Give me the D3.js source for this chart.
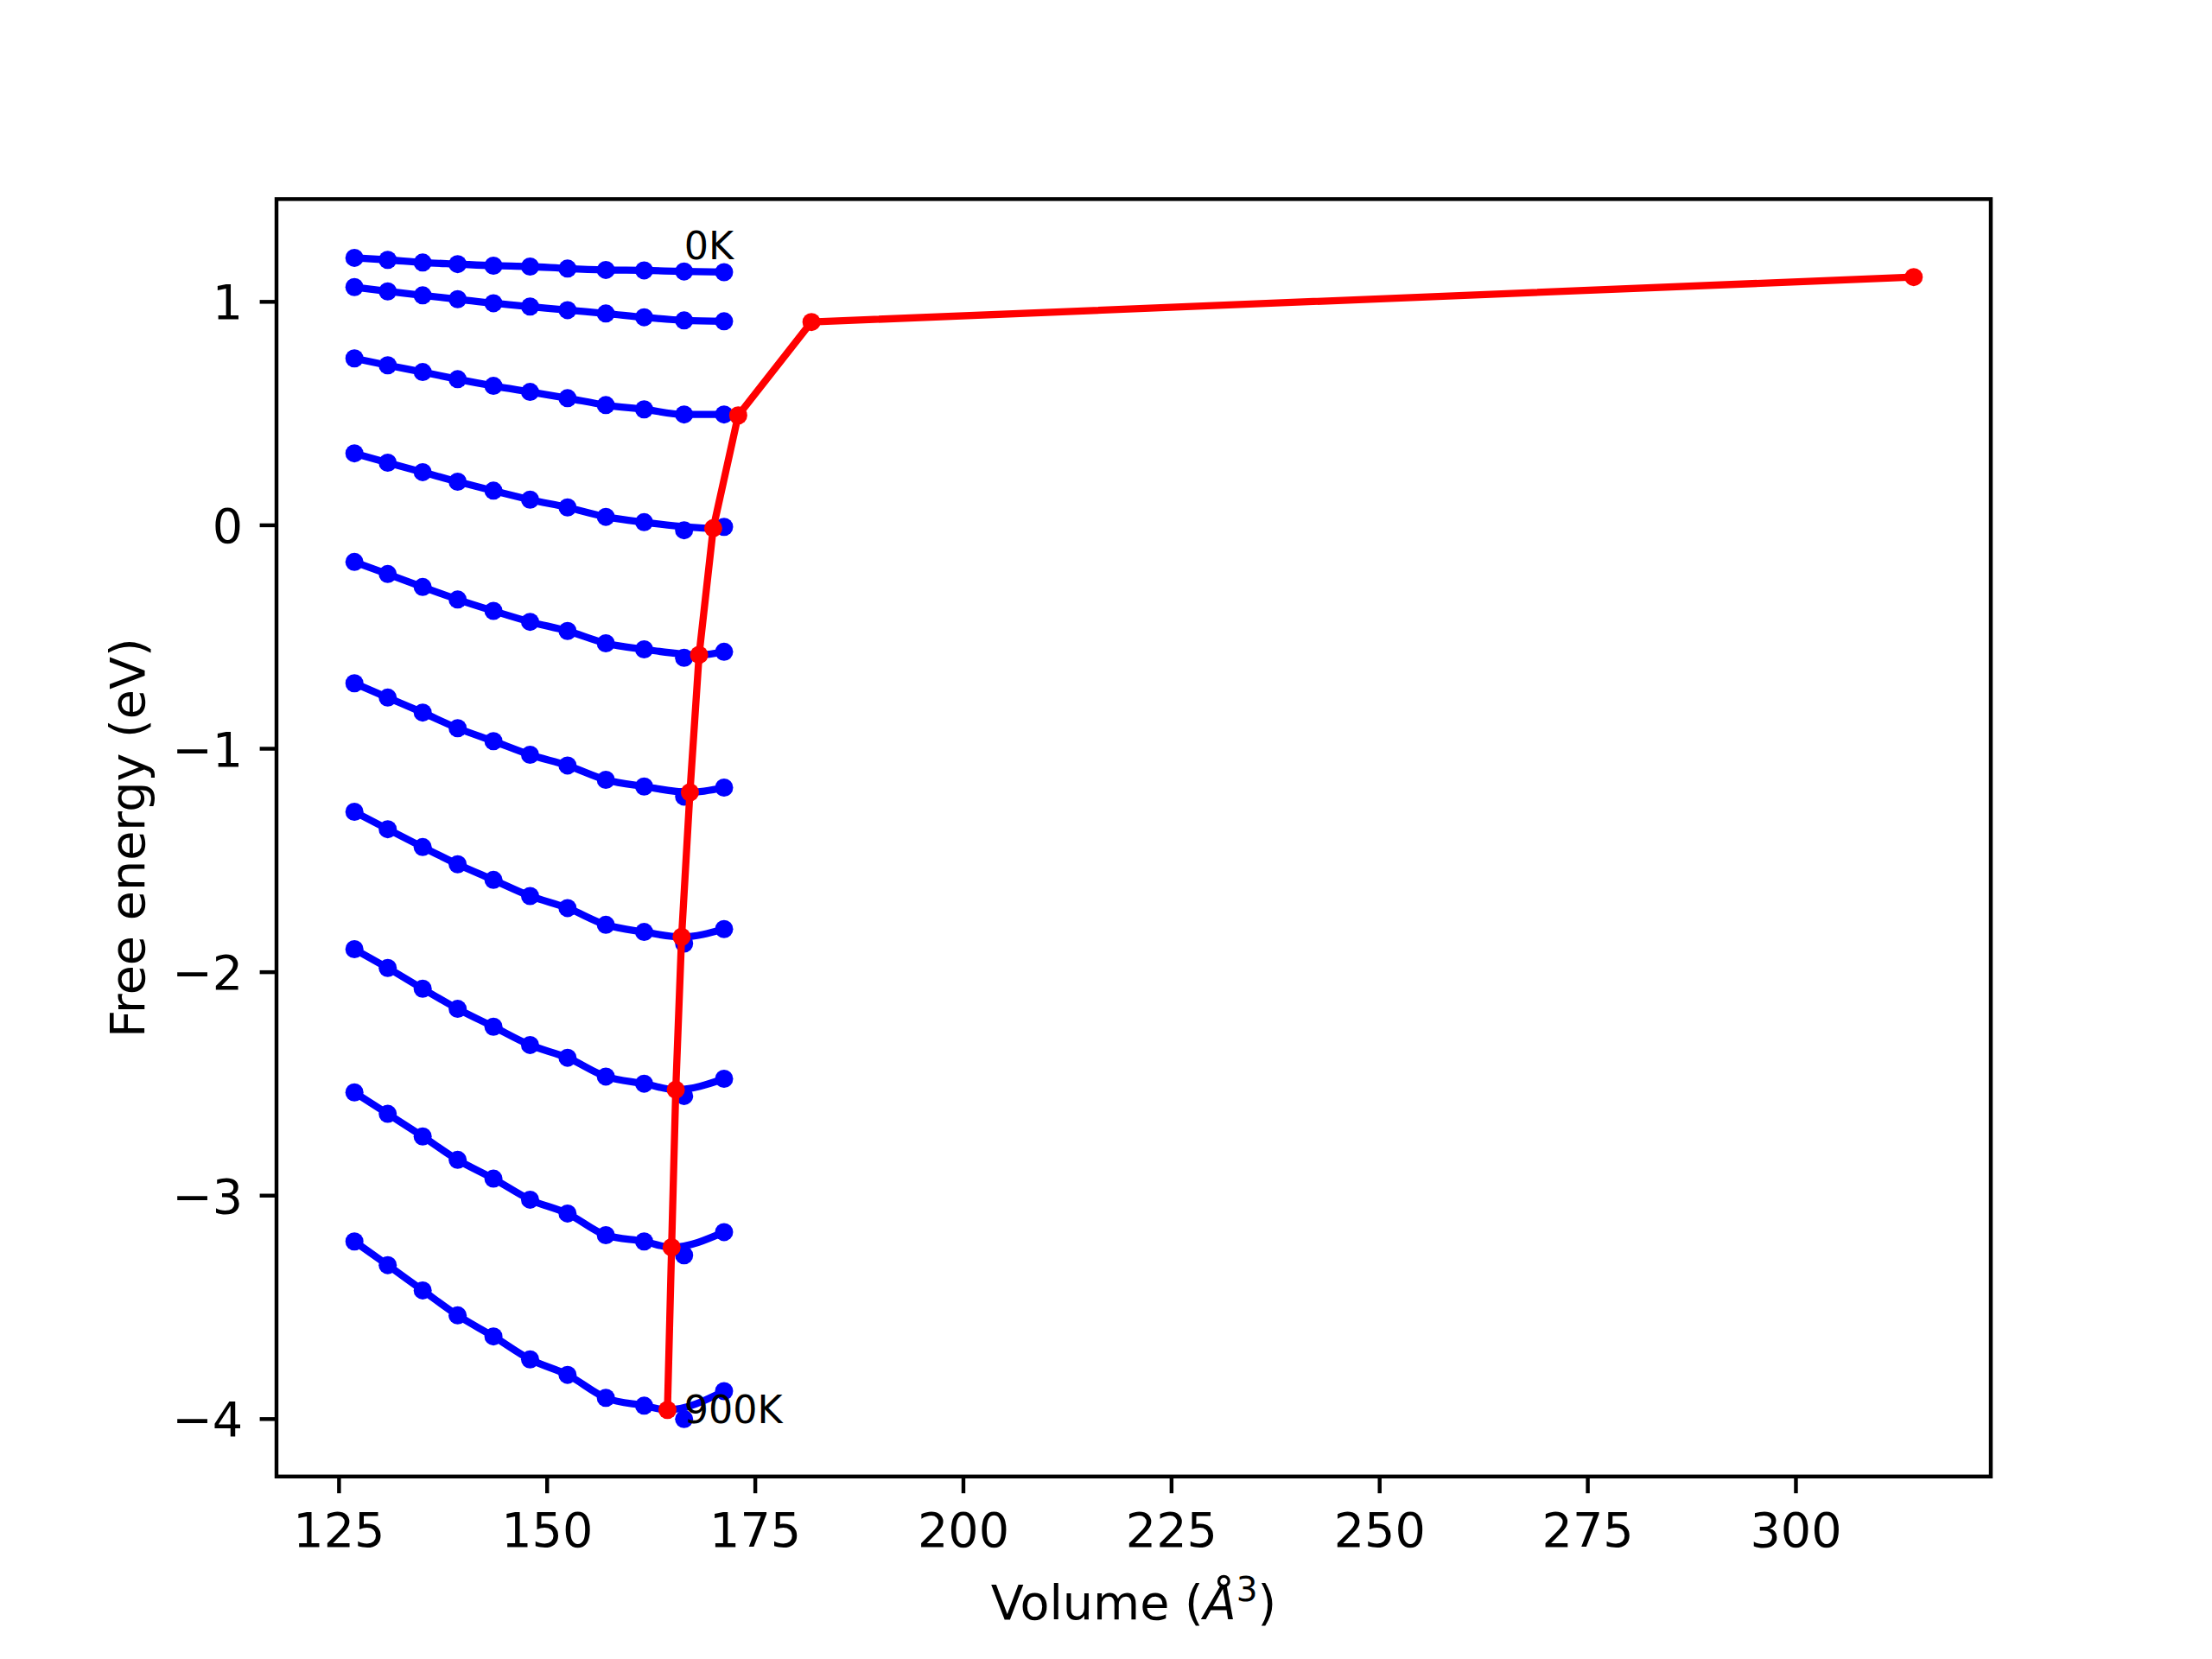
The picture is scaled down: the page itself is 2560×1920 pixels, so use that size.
<!DOCTYPE html>
<html>
<head>
<meta charset="utf-8">
<script src="https://cdn.jsdelivr.net/npm/d3@7"></script>
<style>
  html, body { margin: 0; padding: 0; background: #ffffff; }
  svg { display: block; }
  text { font-family: "DejaVu Sans", sans-serif; fill: #000; }
</style>
</head>
<body>
<div id="chart"></div>
<script>
// ---------------- data ----------------
const volumes = [126.9, 130.9, 135.1, 139.3, 143.6, 148.0, 152.5, 157.1, 161.7, 166.5, 171.3];
const temperatures = [0, 100, 200, 300, 400, 500, 600, 700, 800, 900];

const energy_0K   = [1.195, 1.186, 1.174, 1.167, 1.160, 1.156, 1.147, 1.141, 1.139, 1.134, 1.131];
const energy_100K = [1.064, 1.045, 1.027, 1.010, 0.992, 0.977, 0.961, 0.946, 0.929, 0.915, 0.911];
const energy_200K = [0.745, 0.714, 0.684, 0.652, 0.622, 0.595, 0.567, 0.536, 0.517, 0.494, 0.494];
const energy_300K = [0.320, 0.278, 0.236, 0.193, 0.153, 0.113, 0.078, 0.036, 0.012, -0.024, -0.009];
const energy_400K = [-0.166, -0.220, -0.278, -0.334, -0.385, -0.434, -0.475, -0.530, -0.557, -0.595, -0.568];
const energy_500K = [-0.709, -0.773, -0.840, -0.910, -0.968, -1.029, -1.077, -1.141, -1.171, -1.216, -1.176];
const energy_600K = [-1.284, -1.362, -1.442, -1.519, -1.589, -1.661, -1.715, -1.790, -1.822, -1.874, -1.809];
const energy_700K = [-1.899, -1.983, -2.076, -2.166, -2.246, -2.328, -2.385, -2.469, -2.501, -2.556, -2.479];
const energy_800K = [-2.540, -2.636, -2.737, -2.842, -2.926, -3.020, -3.082, -3.179, -3.207, -3.269, -3.165];
const energy_900K = [-3.207, -3.313, -3.426, -3.538, -3.632, -3.735, -3.804, -3.907, -3.942, -4.002, -3.877];

// equilibrium (fit minimum) volume and free energy for each temperature
const eqVolumes  = [314.2, 181.8, 173.0, 170.0, 168.3, 167.2, 166.2, 165.5, 165.0, 164.5];
const eqEnergies = [1.109, 0.908, 0.490, -0.015, -0.582, -1.197, -1.844, -2.528, -3.233, -3.961];

const xTicks = [125, 150, 175, 200, 225, 250, 275, 300];
const yTicks = [-4, -3, -2, -1, 0, 1];
const labelTop = "0K";
const labelBottom = "900K";
const labelTopPos = [166.5, 1.19];
const labelBottomPos = [166.5, -4.02];

const energySets = [energy_0K, energy_100K, energy_200K, energy_300K, energy_400K,
                    energy_500K, energy_600K, energy_700K, energy_800K, energy_900K];

(function () {
// ---------------- layout ----------------
const W = 2560, H = 1920;
const mLeft = 320, mRight = 2304, mTop = 230.4, mBottom = 1708.8;
const fs = 55.6;          // 10pt at 400 dpi
const fsSmall = 44.4;     // 8pt
const tickLen = 19.4, tickPad = 19.4, spineW = 4.44;
const lineW = 8.3, dotR = 10.5;

const svg = d3.select("#chart").append("svg")
  .attr("width", W).attr("height", H)
  .attr("viewBox", `0 0 ${W} ${H}`);
svg.append("rect").attr("width", W).attr("height", H).attr("fill", "#fff");

const x = d3.scaleLinear().domain([117.54, 323.46]).range([mLeft, mRight]);
const y = d3.scaleLinear().domain([-4.259, 1.458]).range([mBottom, mTop]);

const plot = svg.append("g");
plot.append("clipPath").attr("id", "clip").append("rect")
  .attr("x", mLeft).attr("y", mTop).attr("width", mRight - mLeft).attr("height", mBottom - mTop);
const area = plot.append("g").attr("clip-path", "url(#clip)");

const lineBlue = d3.line().x(d => x(d[0])).y(d => y(d[1])).curve(d3.curveMonotoneX);
const lineRed = d3.line().x(d => x(d[0])).y(d => y(d[1]));

// blue fitted curves + data points
energySets.forEach((es, k) => {
  const pts = volumes.map((v, i) => [v, es[i]]);
  const vEq = eqVolumes[k];
  let curvePts;
  if (vEq > volumes[0] && vEq < volumes[volumes.length - 1]) {
    curvePts = pts.filter((p, i) => i !== volumes.length - 2);
    curvePts.push([vEq, eqEnergies[k]]);
    curvePts.sort((a, b) => a[0] - b[0]);
  } else {
    curvePts = pts;
  }
  area.append("path").datum(curvePts)
    .attr("d", lineBlue)
    .attr("fill", "none").attr("stroke", "#0000ff")
    .attr("stroke-width", lineW).attr("stroke-linejoin", "round").attr("stroke-linecap", "butt");
  area.selectAll(null).data(pts).enter().append("circle")
    .attr("cx", d => x(d[0])).attr("cy", d => y(d[1])).attr("r", dotR)
    .attr("fill", "#0000ff");
});

// red equilibrium line
const eqPts = eqVolumes.map((v, i) => [v, eqEnergies[i]]);
area.append("path").datum(eqPts)
  .attr("d", lineRed)
  .attr("fill", "none").attr("stroke", "#ff0000")
  .attr("stroke-width", lineW).attr("stroke-linejoin", "round");
area.selectAll(null).data(eqPts).enter().append("circle")
  .attr("cx", d => x(d[0])).attr("cy", d => y(d[1])).attr("r", dotR)
  .attr("fill", "#ff0000");

// annotations
svg.append("text").attr("x", x(labelTopPos[0])).attr("y", y(labelTopPos[1]))
  .attr("font-size", fsSmall).text(labelTop);
svg.append("text").attr("x", x(labelBottomPos[0])).attr("y", y(labelBottomPos[1]))
  .attr("font-size", fsSmall).text(labelBottom);

// axes
const xAxis = d3.axisBottom(x).tickValues(xTicks).tickSize(tickLen).tickPadding(tickPad)
  .tickFormat(d3.format("d"));
const gx = svg.append("g").attr("transform", `translate(0,${mBottom})`).call(xAxis);
gx.select(".domain").remove();
gx.selectAll(".tick line").attr("stroke", "#000").attr("stroke-width", spineW);
gx.selectAll(".tick text").attr("font-size", fs).attr("font-family", "DejaVu Sans")
  .attr("fill", "#000").attr("dy", "0.76em");

const yAxis = d3.axisLeft(y).tickValues(yTicks).tickSize(tickLen).tickPadding(tickPad)
  .tickFormat(d3.format("d"));
const gy = svg.append("g").attr("transform", `translate(${mLeft},0)`).call(yAxis);
gy.select(".domain").remove();
gy.selectAll(".tick line").attr("stroke", "#000").attr("stroke-width", spineW);
gy.selectAll(".tick text").attr("font-size", fs).attr("font-family", "DejaVu Sans")
  .attr("fill", "#000").attr("dy", "0.36em");

// frame
svg.append("rect").attr("x", mLeft).attr("y", mTop)
  .attr("width", mRight - mLeft).attr("height", mBottom - mTop)
  .attr("fill", "none").attr("stroke", "#000").attr("stroke-width", spineW)
  .attr("stroke-linejoin", "miter");

// axis labels
const xl = svg.append("text").attr("x", (mLeft + mRight) / 2).attr("y", 1874)
  .attr("text-anchor", "middle").attr("font-size", fs);
xl.append("tspan").text("Volume (");
xl.append("tspan").attr("font-style", "italic").text("Å");
xl.append("tspan").attr("font-size", fs * 0.7).attr("dy", -fs * 0.38).text("3");
xl.append("tspan").attr("dy", fs * 0.38).text(")");

svg.append("text")
  .attr("transform", `translate(167,${(mTop + mBottom) / 2}) rotate(-90)`)
  .attr("text-anchor", "middle").attr("font-size", fs)
  .text("Free energy (eV)");
})();
</script>
</body>
</html>
